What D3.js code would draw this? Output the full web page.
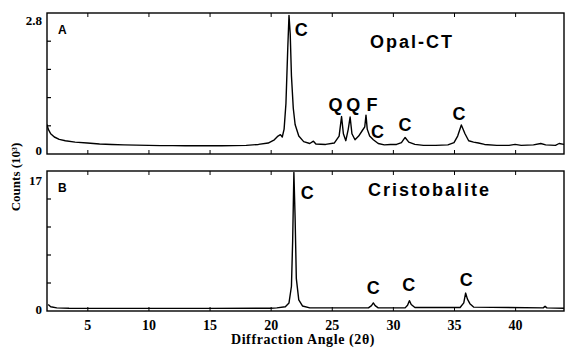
<!DOCTYPE html>
<html>
<head>
<meta charset="utf-8">
<script src="https://cdn.jsdelivr.net/npm/d3@7"></script>
<style>
  body { margin: 0; background: #fff; }
  svg { display: block; }
  .tick text { font-family: "Liberation Serif", serif; font-weight: bold; font-size: 14px; }
</style>
</head>
<body>
<script>
// opal-CT pattern: [2theta, counts (10^3)]
var opalCT = [
  [1.7, 0.55], [1.8, 0.45], [2.0, 0.35], [2.3, 0.28], [2.7, 0.23], [3.2, 0.2], [4, 0.17],
  [5, 0.15], [6, 0.13], [7, 0.12], [8, 0.11], [9, 0.105], [10, 0.1], [11, 0.095],
  [12, 0.095], [13, 0.09], [14, 0.09], [15, 0.09], [16, 0.09], [17, 0.095], [18, 0.1],
  [19, 0.12], [19.8, 0.15], [20.3, 0.22], [20.6, 0.3], [20.8, 0.33], [20.95, 0.28],
  [21.1, 0.45], [21.25, 1.0], [21.4, 2.2], [21.5, 2.9], [21.6, 2.5], [21.7, 1.6],
  [21.85, 0.9], [22.0, 0.55], [22.3, 0.3], [22.7, 0.18], [23.2, 0.14], [23.5, 0.19],
  [23.7, 0.13], [24.5, 0.12], [25.2, 0.15], [25.6, 0.3], [25.8, 0.72], [25.95, 0.35],
  [26.15, 0.2], [26.35, 0.45], [26.5, 0.71], [26.65, 0.35], [26.9, 0.22], [27.2, 0.3],
  [27.5, 0.42], [27.7, 0.5], [27.8, 0.75], [27.9, 0.45], [28.1, 0.3], [28.4, 0.22],
  [28.8, 0.14], [29.3, 0.11], [29.8, 0.12], [30.3, 0.12], [30.7, 0.16], [31.0, 0.27],
  [31.3, 0.17], [31.8, 0.12], [32.5, 0.1], [33.5, 0.1], [34.5, 0.11], [35.0, 0.16],
  [35.3, 0.3], [35.6, 0.54], [35.9, 0.35], [36.2, 0.2], [36.6, 0.17], [37, 0.15],
  [37.5, 0.12], [38.5, 0.1], [39.5, 0.1], [40.0, 0.12], [40.5, 0.1], [41.5, 0.11],
  [42.1, 0.14], [42.5, 0.11], [43.3, 0.1], [43.6, 0.14], [44.0, 0.12]
];

// cristobalite pattern
var cristo = [
  [1.8, 0.6], [2.0, 0.3], [2.5, 0.15], [3.5, 0.1], [5, 0.08], [10, 0.08], [15, 0.08],
  [20, 0.1], [20.5, 0.15], [21.2, 0.3], [21.5, 0.8], [21.7, 3], [21.8, 9], [21.9, 18],
  [22.0, 12], [22.1, 4], [22.3, 1.2], [22.6, 0.4], [23.2, 0.15], [28.0, 0.15],
  [28.25, 0.45], [28.4, 0.8], [28.55, 0.45], [28.8, 0.15], [31.0, 0.15], [31.2, 0.5],
  [31.35, 1.1], [31.5, 0.6], [31.8, 0.2], [35.5, 0.2], [35.8, 0.8], [35.95, 2.1],
  [36.1, 1.3], [36.3, 0.7], [36.6, 0.25], [42.3, 0.15], [42.45, 0.35], [42.6, 0.15],
  [44.0, 0.1]
];

var xTicks = [5, 10, 15, 20, 25, 30, 35, 40];
var yLabelsA = [0, 2.8];
var yLabelsB = [0, 17];

// peak labels [letter, 2theta of text, counts]
var peaksA = [["C", 22.5, 2.6], ["Q", 25.3, 0.97], ["Q", 26.75, 0.97], ["F", 28.3, 0.97],
              ["C", 28.75, 0.39], ["C", 31.0, 0.54], ["C", 35.4, 0.79]];
var peaksB = [["C", 23.0, 15.3], ["C", 28.4, 2.8], ["C", 31.3, 3.2], ["C", 36.0, 3.8]];

var width = 565, height = 348;
var left = 47, right = 564;

var svg = d3.select("body").append("svg")
  .attr("width", width).attr("height", height);

var x = d3.scaleLinear().domain([1.7, 44]).range([left, right]);

var panels = [
  { data: opalCT, top: 13, bottom: 154, y: d3.scaleLinear().domain([0, 2.8]).range([150, 20]),
    labels: yLabelsA, peaks: peaksA, letter: "A", name: "Opal-CT", nameX: 370, nameY: 48 },
  { data: cristo, top: 171, bottom: 311, y: d3.scaleLinear().domain([0, 17]).range([309, 180]),
    labels: yLabelsB, peaks: peaksB, letter: "B", name: "Cristobalite", nameX: 368, nameY: 196 }
];

panels.forEach(function(p, i) {
  var g = svg.append("g");
  var clipId = "clip" + i;
  svg.append("clipPath").attr("id", clipId).append("rect")
    .attr("x", left).attr("y", p.top).attr("width", right - left).attr("height", p.bottom - p.top);

  // frame
  g.append("rect")
    .attr("x", left).attr("y", p.top)
    .attr("width", right - left).attr("height", p.bottom - p.top)
    .attr("fill", "none").attr("stroke", "#000").attr("stroke-width", 1.4);

  // inward ticks top and bottom
  g.append("g").attr("transform", "translate(0," + p.bottom + ")")
    .call(d3.axisTop(x).tickValues(xTicks).tickSize(4).tickFormat(""))
    .call(function(a) { a.select(".domain").remove(); });
  g.append("g").attr("transform", "translate(0," + p.top + ")")
    .call(d3.axisBottom(x).tickValues(xTicks).tickSize(4).tickFormat(""))
    .call(function(a) { a.select(".domain").remove(); });

  // left minor ticks
  var step = (p.bottom - p.top) / 5;
  g.selectAll(".ytk").data(d3.range(1, 5)).enter().append("line")
    .attr("x1", left).attr("x2", left + 4)
    .attr("y1", function(d) { return p.top + d * step; })
    .attr("y2", function(d) { return p.top + d * step; })
    .attr("stroke", "#000").attr("stroke-width", 1.2);

  // y labels
  g.selectAll(".ylab").data(p.labels).enter().append("text")
    .attr("x", 42).attr("y", function(d) { return p.y(d); })
    .attr("dy", "0.35em").attr("text-anchor", "end")
    .style("font-family", "Liberation Serif, serif").style("font-weight", "bold")
    .style("font-size", "13px")
    .text(function(d) { return d; });

  // trace
  g.append("path").datum(p.data)
    .attr("clip-path", "url(#" + clipId + ")")
    .attr("fill", "none").attr("stroke", "#000").attr("stroke-width", 1.4)
    .attr("stroke-linejoin", "round")
    .attr("d", d3.line().x(function(d) { return x(d[0]); }).y(function(d) { return p.y(d[1]); }));

  // panel letter
  g.append("text").attr("x", 58).attr("y", p.top + 21)
    .style("font-family", "Liberation Sans, sans-serif").style("font-weight", "bold")
    .style("font-size", "12px").text(p.letter);

  // name
  g.append("text").attr("x", p.nameX).attr("y", p.nameY)
    .style("font-family", "Liberation Sans, sans-serif").style("font-weight", "bold")
    .style("font-size", "18px").style("letter-spacing", "2px").text(p.name);

  // peak letters
  g.selectAll(".pk").data(p.peaks).enter().append("text")
    .attr("x", function(d) { return x(d[1]); })
    .attr("y", function(d) { return p.y(d[2]); })
    .attr("text-anchor", "middle").attr("dy", "0.35em")
    .style("font-family", "Liberation Sans, sans-serif").style("font-weight", "bold")
    .style("font-size", "18px")
    .text(function(d) { return d[0]; });
});

// x tick labels
svg.append("g").attr("transform", "translate(0,317)")
  .call(d3.axisBottom(x).tickValues(xTicks).tickSize(0))
  .call(function(a) { a.select(".domain").remove(); });

svg.append("text").attr("x", 303).attr("y", 339).attr("dy", "0.35em")
  .attr("text-anchor", "middle")
  .style("font-family", "Liberation Serif, serif").style("font-weight", "bold")
  .style("font-size", "14px").style("letter-spacing", "0.6px")
  .text("Diffraction Angle (2\u03b8)");

svg.append("text").attr("transform", "translate(15,177) rotate(-90)")
  .attr("text-anchor", "middle").attr("dy", "0.35em")
  .style("font-family", "Liberation Serif, serif").style("font-weight", "bold")
  .style("font-size", "13px")
  .text("Counts (10\u00b3)");
</script>
</body>
</html>
